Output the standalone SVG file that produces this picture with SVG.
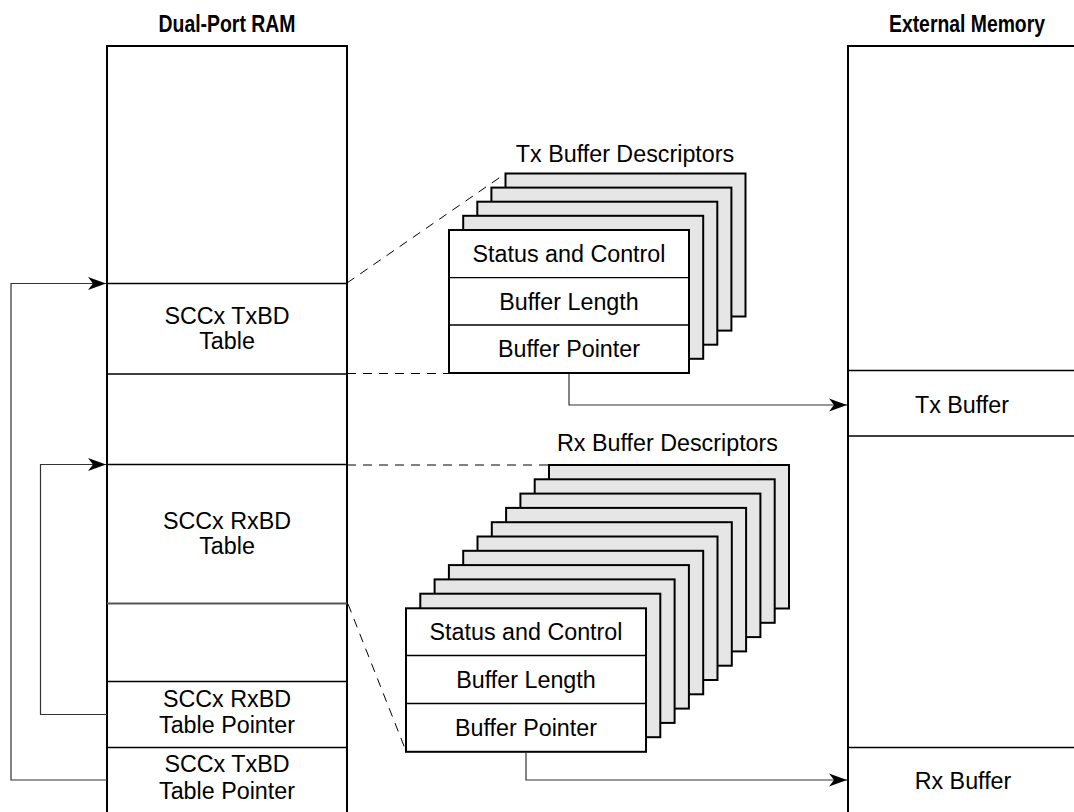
<svg xmlns="http://www.w3.org/2000/svg" width="1074" height="812" viewBox="0 0 1074 812">
<style>
text{font-family:"Liberation Sans",Arial,sans-serif;font-size:23.3px;fill:#000;text-anchor:middle}
.title{font-family:"Liberation Sans Narrow","Liberation Sans",Arial,sans-serif;font-weight:bold;font-size:23px}
.outer{fill:none;stroke:#000;stroke-width:2}
.div{fill:none;stroke:#000;stroke-width:1.3}
.bd{fill:#e6e6e6;stroke:#000;stroke-width:2}
.bdf{fill:#fff;stroke:#000;stroke-width:2}
.dash{fill:none;stroke:#000;stroke-width:1;stroke-dasharray:9 7}
.conn{fill:none;stroke:#333;stroke-width:1.2}
</style>
<defs>
<marker id="arr" markerUnits="userSpaceOnUse" markerWidth="20" markerHeight="14" viewBox="-19 -7 20 14" refX="0" refY="0" orient="auto">
<path d="M0,0 L-18,-6.5 L-13,0 L-18,6.5 Z" fill="#000"/>
</marker>
</defs>
<rect width="1074" height="812" fill="#fff"/>

<g id="dual-port-ram">
<text class="title" x="227" y="32" textLength="137" lengthAdjust="spacingAndGlyphs">Dual-Port RAM</text>
<path class="outer" d="M107,814 V46 H347 V814"/>
<line class="div" x1="107" y1="283.5" x2="347" y2="283.5"/>
<line class="div" x1="107" y1="374" x2="347" y2="374"/>
<line class="div" x1="107" y1="464.5" x2="347" y2="464.5"/>
<line x1="107" y1="603.5" x2="347" y2="603.5" stroke="#555" stroke-width="2"/>
<line class="div" x1="107" y1="681.5" x2="347" y2="681.5"/>
<line class="div" x1="107" y1="747.5" x2="347" y2="747.5"/>
<text x="227" y="323.5">SCCx TxBD</text>
<text x="227" y="348.5">Table</text>
<text x="227" y="528.5">SCCx RxBD</text>
<text x="227" y="553.5">Table</text>
<text x="227" y="706.5">SCCx RxBD</text>
<text x="227" y="733">Table Pointer</text>
<text x="227" y="772">SCCx TxBD</text>
<text x="227" y="799">Table Pointer</text>
</g>

<g id="external-memory">
<text class="title" x="967" y="32" textLength="156" lengthAdjust="spacingAndGlyphs">External Memory</text>
<path class="outer" d="M848,814 V46 H1076"/>
<line class="div" x1="848" y1="370.5" x2="1074" y2="370.5"/>
<line class="div" x1="848" y1="436" x2="1074" y2="436"/>
<line class="div" x1="848" y1="747.5" x2="1074" y2="747.5"/>
<text x="962" y="413">Tx Buffer</text>
<text x="963" y="789">Rx Buffer</text>
</g>

<g id="tx-buffer-descriptors">
<text x="625" y="161.5">Tx Buffer Descriptors</text>
<rect class="bd" x="505.5" y="173.5" width="240" height="143"/>
<rect class="bd" x="491.4" y="187.6" width="240" height="143"/>
<rect class="bd" x="477.3" y="201.7" width="240" height="143"/>
<rect class="bd" x="463.2" y="215.8" width="240" height="143"/>
<rect class="bdf" x="449" y="230" width="240" height="143"/>
<line class="div" x1="449" y1="277.7" x2="689" y2="277.7"/>
<line class="div" x1="449" y1="325" x2="689" y2="325"/>
<text x="569" y="262">Status and Control</text>
<text x="569" y="309.5">Buffer Length</text>
<text x="569" y="357">Buffer Pointer</text>
</g>

<g id="rx-buffer-descriptors">
<text x="667.5" y="451">Rx Buffer Descriptors</text>
<rect class="bd" x="549" y="465" width="240" height="143.5"/>
<rect class="bd" x="534.7" y="479.3" width="240" height="143.5"/>
<rect class="bd" x="520.4" y="493.6" width="240" height="143.5"/>
<rect class="bd" x="506.1" y="507.9" width="240" height="143.5"/>
<rect class="bd" x="491.8" y="522.2" width="240" height="143.5"/>
<rect class="bd" x="477.5" y="536.5" width="240" height="143.5"/>
<rect class="bd" x="463.2" y="550.8" width="240" height="143.5"/>
<rect class="bd" x="448.9" y="565.1" width="240" height="143.5"/>
<rect class="bd" x="434.6" y="579.4" width="240" height="143.5"/>
<rect class="bd" x="420.3" y="593.7" width="240" height="143.5"/>
<rect class="bdf" x="406" y="608.3" width="240" height="143.5"/>
<line class="div" x1="406" y1="655.5" x2="646" y2="655.5"/>
<line class="div" x1="406" y1="703.5" x2="646" y2="703.5"/>
<text x="526" y="640">Status and Control</text>
<text x="526" y="687.5">Buffer Length</text>
<text x="526" y="735.5">Buffer Pointer</text>
</g>

<g id="connectors">
<line class="dash" x1="347" y1="283" x2="505.5" y2="173.5"/>
<line class="dash" x1="347" y1="373.5" x2="449" y2="373.5"/>
<line class="dash" x1="347" y1="465" x2="549" y2="465"/>
<line class="dash" x1="348" y1="604" x2="406" y2="751"/>
<polyline class="conn" points="107,780 11,780 11,283.5 106,283.5" marker-end="url(#arr)"/>
<polyline class="conn" points="107,714.5 40.5,714.5 40.5,464.5 106,464.5" marker-end="url(#arr)"/>
<polyline class="conn" points="569,374 569,405 847,405" marker-end="url(#arr)"/>
<polyline class="conn" points="526,752 526,780 847,780" marker-end="url(#arr)"/>
</g>
</svg>
